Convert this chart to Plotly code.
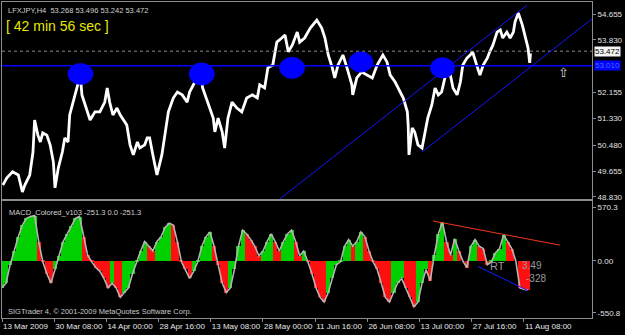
import plotly.graph_objects as go

# ---------------- data ----------------
price_bars = [1, 6, 13, 20, 25, 28, 34, 38, 40, 44, 47, 50, 55, 59, 63, 65, 69, 74, 77, 81,
              83, 87, 93, 96, 98, 102, 105, 108, 114, 120, 126, 129, 132, 136, 141, 145, 153, 157, 161, 166,
              169, 175, 178, 181, 185, 190, 196, 200, 204, 210, 215, 221, 227, 230, 239, 243, 246, 253, 259, 261,
              265, 270, 273, 277, 282, 288, 294, 300, 307, 313, 316, 322, 326, 332, 337, 343, 347, 351, 356, 362,
              365, 371, 378, 386, 392, 396, 400, 405, 408, 412, 418, 423, 429, 430, 435, 441, 448, 454, 460, 467,
              472, 476, 482, 488, 492, 497, 498, 499, 503, 506, 510, 515, 519, 522, 527, 531, 535, 539, 543, 547,
              549, 553, 558, 562, 565, 570, 574, 577, 582, 586, 590, 595, 598, 602, 607, 611, 614, 619, 623, 627,
              629, 633, 638, 641, 645, 647, 648]
price_vals = [49.21, 49.44, 49.63, 49.53, 48.99, 49.21, 49.53, 50.26, 51.28, 50.80, 50.58, 50.87, 50.80, 50.49, 49.94, 49.12, 49.75, 50.26, 50.71, 50.58,
              51.44, 51.85, 52.40, 52.71, 52.08, 51.76, 51.54, 51.28, 51.54, 51.54, 51.85, 52.30, 51.85, 51.44, 51.66, 51.44, 51.12, 50.49, 50.17, 50.58,
              50.39, 50.49, 50.71, 50.71, 50.17, 49.53, 50.17, 50.90, 51.54, 51.98, 52.17, 52.08, 51.85, 52.17, 52.62, 52.81, 52.30, 51.76, 51.34, 50.90,
              51.34, 50.90, 50.39, 51.34, 51.85, 51.66, 51.54, 51.98, 52.08, 51.98, 52.40, 52.30, 52.94, 53.03, 53.76, 53.89, 53.99, 53.45, 53.67, 54.08,
              53.76, 53.89, 54.21, 54.46, 54.21, 53.89, 53.35, 52.94, 52.62, 53.03, 53.35, 52.94, 52.40, 52.08, 52.62, 52.81, 52.71, 52.62, 53.03, 53.35,
              53.13, 52.71, 52.49, 52.17, 51.98, 51.54, 51.12, 50.17, 51.03, 50.90, 50.49, 50.39, 50.90, 51.34, 51.76, 52.30, 52.08, 52.17, 52.62, 52.94,
              52.81, 52.30, 52.08, 52.49, 53.03, 53.25, 53.35, 53.45, 53.03, 52.71, 53.03, 53.25, 53.45, 53.67, 54.08, 54.15, 53.89, 54.08, 53.89, 54.08,
              54.40, 54.69, 54.30, 53.99, 53.57, 53.10, 53.40]

macd_bars = list(range(0, 650, 5))
macd_vals = [-285, -235, -40, 110, 255, 380, 450, 470, 480, 205, -10, -135, -235, -90, 55, 205, 285, 370, 450, 470,
             255, 60, -10, -70, -110, -185, -285, -235, -285, -385, -335, -285, -135, -10, 105, 205, 155, 105, 205, 255,
             355, 400, 380, 205, -10, -90, -185, -110, -10, 155, 255, 305, 155, -40, -235, -335, -285, -90, 155, 325,
             285, 225, 155, 55, 105, 205, 285, 205, 105, 205, 285, 325, 205, 55, 105, -10, -135, -285, -385, -435,
             -335, -185, -40, -10, 155, 225, 155, 205, 305, 255, 105, -10, -90, -235, -385, -435, -335, -235, -185, -285,
             -385, -485, -435, -235, -90, -210, 60, 285, 410, 205, 60, 235, 110, 0, -70, 155, 225, 155, 130, -40,
             -10, 85, 130, 275, 205, 130, 0, -285, -300, -310]

time_ticks = [0, 64, 128, 192, 256, 320, 384, 448, 512, 576, 640]
time_labels = ["13 Mar 2009", "30 Mar 08:00", "14 Apr 00:00", "28 Apr 16:00", "13 May 08:00",
               "28 May 00:00", "11 Jun 16:00", "26 Jun 08:00", "13 Jul 00:00", "27 Jul 16:00", "11 Aug 08:00"]

price_ticks = [54.655, 53.830, 52.155, 51.330, 50.480, 49.655, 48.830]
price_tick_labels = ["54.655", "53.830", "52.155", "51.330", "50.480", "49.655", "48.830"]
macd_ticks = [570.3, 0.0, -550.8]
macd_tick_labels = ["570.3", "0.00", "-550.8"]

support_level = 53.010
bid_level = 53.472

# ellipse marks: (bar centre, price centre, half-width bars, half-height price)
ellipses = [(96.2, 52.745, 15.3, 0.33), (244.9, 52.745, 15.3, 0.35), (355.6, 52.94, 15.3, 0.334),
            (440.1, 53.127, 14.7, 0.32), (540.1, 52.94, 14.7, 0.32)]
# trendlines: (bar0, val0, bar1, val1)
channel_lines = [(340.8, 48.77, 643.7, 54.94), (515.0, 50.26, 723.4, 54.50)]
macd_red_line = (528.4, 422.7, 684.1, 167.0)
macd_blue_line = (583.6, -59.0, 644.9, -314.6)

FONT = "Liberation Sans"
GRID = "#8c8c8c"

fig = go.Figure()

fig.add_trace(go.Scatter(x=price_bars, y=price_vals, mode="lines",
                         line=dict(color="white", width=2.8), xaxis="x", yaxis="y",
                         hoverinfo="skip", showlegend=False))

colors = ["#00d000" if i == 0 or macd_vals[i] >= macd_vals[i - 1] else "#ff1010"
          for i in range(len(macd_vals))]
fig.add_trace(go.Bar(x=macd_bars, y=macd_vals, marker=dict(color=colors, line=dict(width=0)),
                     width=5, xaxis="x2", yaxis="y2", showlegend=False, hoverinfo="skip"))
fig.add_trace(go.Scatter(x=macd_bars, y=macd_vals, mode="lines",
                         line=dict(color="#b4b4b4", width=1.6), xaxis="x2", yaxis="y2",
                         showlegend=False, hoverinfo="skip"))

shapes = []
shapes.append(dict(type="line", xref="x domain", yref="y", x0=0, x1=1, y0=support_level, y1=support_level,
                   line=dict(color="#0000ff", width=1.6)))
shapes.append(dict(type="line", xref="x domain", yref="y", x0=0, x1=1, y0=bid_level, y1=bid_level,
                   line=dict(color="#8a8a8a", width=1, dash="dot")))
for (b0, v0, b1, v1) in channel_lines:
    shapes.append(dict(type="line", xref="x", yref="y", x0=b0, y0=v0, x1=b1, y1=v1,
                       line=dict(color="#1515ff", width=1)))
for (bc, pc, hw, hh) in ellipses:
    shapes.append(dict(type="circle", xref="x", yref="y", x0=bc - hw, x1=bc + hw, y0=pc - hh, y1=pc + hh,
                       fillcolor="#0000ff", line=dict(color="#0000ff", width=1)))
b0, v0, b1, v1 = macd_red_line
shapes.append(dict(type="line", xref="x2", yref="y2", x0=b0, y0=v0, x1=b1, y1=v1,
                   line=dict(color="#f03818", width=1)))
b0, v0, b1, v1 = macd_blue_line
shapes.append(dict(type="line", xref="x2", yref="y2", x0=b0, y0=v0, x1=b1, y1=v1,
                   line=dict(color="#1a1aff", width=1)))

annotations = [
    dict(text="LFXJPY,H4  53.268 53.496 53.242 53.472", x=0.006, y=0.993, xref="paper", yref="paper",
         xanchor="left", yanchor="top", showarrow=False, font=dict(family=FONT, size=7.5, color="#d0d0d0")),
    dict(text="[ 42 min 56 sec ]", x=0.003, y=0.955, xref="paper", yref="paper",
         xanchor="left", yanchor="top", showarrow=False, font=dict(family=FONT, size=14, color="#e8e800")),
    dict(text="53.472", x=1.0, y=bid_level, xref="paper", yref="y", xanchor="left", yanchor="middle",
         showarrow=False, bgcolor="#f4f4f4", borderpad=0, xshift=2,
         font=dict(family=FONT, size=8, color="#000000")),
    dict(text="53.010", x=1.0, y=support_level, xref="paper", yref="y", xanchor="left", yanchor="middle",
         showarrow=False, bgcolor="#0000ff", borderpad=0, xshift=2,
         font=dict(family=FONT, size=8, color="#4a6cff")),
    dict(text="\u21e7", x=688, y=52.78, xref="x", yref="y", showarrow=False,
         font=dict(family="DejaVu Sans", size=13, color="#d8d8d8")),
    dict(text="MACD_Colored_v103 -251.3 0.0 -251.3", x=0.008, y=0.355, xref="paper", yref="paper",
         xanchor="left", yanchor="top", showarrow=False, font=dict(family=FONT, size=7.5, color="#d0d0d0")),
    dict(text="SIGTrader 4, \u00a9 2001-2009 MetaQuotes Software Corp.", x=0.006, y=0.0, xref="paper",
         yref="paper", xanchor="left", yanchor="bottom", showarrow=False,
         font=dict(family=FONT, size=7.5, color="#c8c8c8")),
    dict(text="RT", x=607, y=-59, xref="x2", yref="y2", showarrow=False,
         font=dict(family=FONT, size=11, color="#9a9a9a")),
    dict(text="3.49", x=650, y=-50, xref="x2", yref="y2", showarrow=False,
         font=dict(family=FONT, size=10, color="#9a9a9a")),
    dict(text="-328", x=655, y=-190, xref="x2", yref="y2", showarrow=False,
         font=dict(family=FONT, size=10, color="#9a9a9a")),
]

axis_common = dict(showgrid=False, zeroline=False, showline=True, linecolor=GRID, linewidth=1, mirror=True,
                   automargin=False)

fig.update_layout(
    width=625, height=335,
    margin=dict(l=2, r=33, t=2, b=17),
    paper_bgcolor="#000000", plot_bgcolor="#000000",
    bargap=0,
    xaxis=dict(domain=[0, 1], anchor="y", range=[0, 723.4], showticklabels=False, ticks="",
               **axis_common),
    yaxis=dict(domain=[0.3766, 1], anchor="x", range=[48.766, 55.037], side="right",
               tickvals=price_ticks, ticktext=price_tick_labels, ticks="outside", ticklen=3,
               tickcolor=GRID, tickfont=dict(family=FONT, size=8, color="#e0e0e0"), **axis_common),
    xaxis2=dict(domain=[0, 1], anchor="y2", range=[0, 723.4], matches="x",
                tickvals=time_ticks, ticktext=time_labels, ticks="outside", ticklen=3, tickcolor=GRID,
                ticklabelposition="outside right", tickangle=0,
                tickfont=dict(family=FONT, size=8, color="#e8e8e8"), **axis_common),
    yaxis2=dict(domain=[0, 0.3703], anchor="x2", range=[-604, 634], side="right",
                tickvals=macd_ticks, ticktext=macd_tick_labels, ticks="outside", ticklen=3,
                tickcolor=GRID, tickfont=dict(family=FONT, size=8, color="#e0e0e0"), **axis_common),
    shapes=shapes,
    annotations=annotations,
)

fig.write_html("out.html")
